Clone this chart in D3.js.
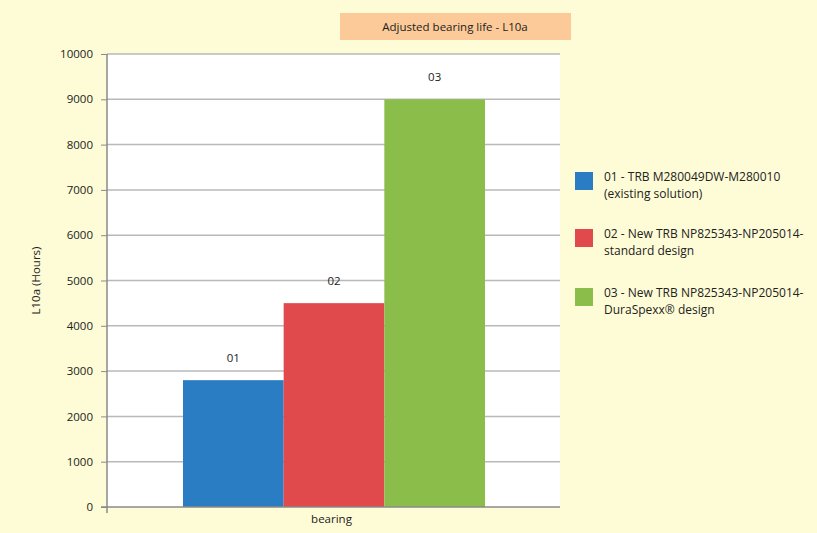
<!DOCTYPE html>
<html>
<head>
<meta charset="utf-8">
<script src="https://cdn.jsdelivr.net/npm/d3@7"></script>
<style>
  body { margin: 0; background: #fefcd6; }
  svg { display: block; font-family: "Open Sans", sans-serif; }
</style>
</head>
<body>
<svg id="chart" width="817" height="533"></svg>
<script>
// data
const categories = ['01', '02', '03'];
const values = [2800, 4500, 9000];
const colors = ['#2a7dc2', '#e04a4c', '#8bbd4b'];
const legendLines = [
    ['01 - TRB M280049DW-M280010', '(existing solution)'],
    ['02 - New TRB NP825343-NP205014-', 'standard design'],
    ['03 - New TRB NP825343-NP205014-', 'DuraSpexx\u00ae design']
];
const yTicks = [0, 1000, 2000, 3000, 4000, 5000, 6000, 7000, 8000, 9000, 10000];

const svg = d3.select('#chart');

const plot = { left: 107, right: 560, top: 54, bottom: 507 };
const textColor = '#222';

const y = d3.scaleLinear().domain([0, 10000]).range([plot.bottom, plot.top]);
const x = d3.scaleBand().domain(categories).range([183, 485]).padding(0);

// background
svg.append('rect')
    .attr('width', 817).attr('height', 533)
    .attr('fill', '#fefcd6');

// white plot area
svg.append('rect')
    .attr('x', plot.left).attr('y', plot.top)
    .attr('width', plot.right - plot.left).attr('height', plot.bottom - plot.top)
    .attr('fill', '#ffffff');

// grid lines
svg.append('g')
    .selectAll('line')
    .data(yTicks.filter(d => d > 0))
    .join('line')
    .attr('x1', plot.left).attr('x2', plot.right)
    .attr('y1', d => y(d)).attr('y2', d => y(d))
    .attr('stroke', '#b9b9b9')
    .attr('stroke-width', 1.5);

// bars
svg.append('g')
    .selectAll('rect')
    .data(values)
    .join('rect')
    .attr('x', (d, i) => x(categories[i]))
    .attr('y', d => y(d))
    .attr('width', x.bandwidth())
    .attr('height', d => y(0) - y(d))
    .attr('fill', (d, i) => colors[i]);

// bar labels
svg.append('g')
    .selectAll('text')
    .data(values)
    .join('text')
    .attr('x', (d, i) => x(categories[i]) + x.bandwidth() / 2)
    .attr('y', d => y(d) - 18)
    .attr('text-anchor', 'middle')
    .attr('font-size', '11.5px')
    .attr('fill', textColor)
    .text((d, i) => categories[i]);

// y axis
const yAxis = d3.axisLeft(y).tickValues(yTicks).tickFormat(d3.format('d')).tickSize(6).tickPadding(8);
const gy = svg.append('g')
    .attr('transform', `translate(${plot.left},0)`)
    .call(yAxis);
gy.select('.domain').attr('stroke', '#8a8a8a').attr('stroke-width', 1.5)
    .attr('d', `M0,${plot.top}V${plot.bottom + 6}`);
gy.selectAll('.tick line').attr('stroke', '#8a8a8a');
gy.selectAll('.tick text')
    .attr('font-family', '"Open Sans", sans-serif')
    .attr('font-size', '11.5px')
    .attr('fill', textColor);

// x axis baseline
svg.append('line')
    .attr('x1', plot.left - 6).attr('x2', plot.right)
    .attr('y1', plot.bottom).attr('y2', plot.bottom)
    .attr('stroke', '#8a8a8a')
    .attr('stroke-width', 1.5);

svg.append('text')
    .attr('x', (plot.left + plot.right) / 2 - 2)
    .attr('y', plot.bottom + 16)
    .attr('text-anchor', 'middle')
    .attr('font-size', '11.5px')
    .attr('fill', textColor)
    .text('bearing');

// y axis title
svg.append('text')
    .attr('transform', `translate(40,${(plot.top + plot.bottom) / 2}) rotate(-90)`)
    .attr('text-anchor', 'middle')
    .attr('font-size', '11.5px')
    .attr('fill', textColor)
    .text('L10a (Hours)');

// title box
svg.append('rect')
    .attr('x', 340).attr('y', 13)
    .attr('width', 231).attr('height', 27)
    .attr('fill', '#fcca98');
svg.append('text')
    .attr('x', 455).attr('y', 31)
    .attr('text-anchor', 'middle')
    .attr('font-size', '11.5px')
    .attr('fill', textColor)
    .text('Adjusted bearing life - L10a');

// legend
const legendY = [172, 229, 288];
const legend = svg.append('g')
    .selectAll('g')
    .data(legendLines)
    .join('g')
    .attr('transform', (d, i) => `translate(575,${legendY[i]})`);

legend.append('rect')
    .attr('width', 18).attr('height', 18)
    .attr('fill', (d, i) => colors[i]);

legend.append('g')
    .selectAll('text')
    .data(d => d)
    .join('text')
    .attr('x', 29)
    .attr('y', (d, i) => 9 + i * 16.8)
    .attr('font-size', '12px')
    .attr('fill', textColor)
    .text(d => d);
</script>
</body>
</html>
